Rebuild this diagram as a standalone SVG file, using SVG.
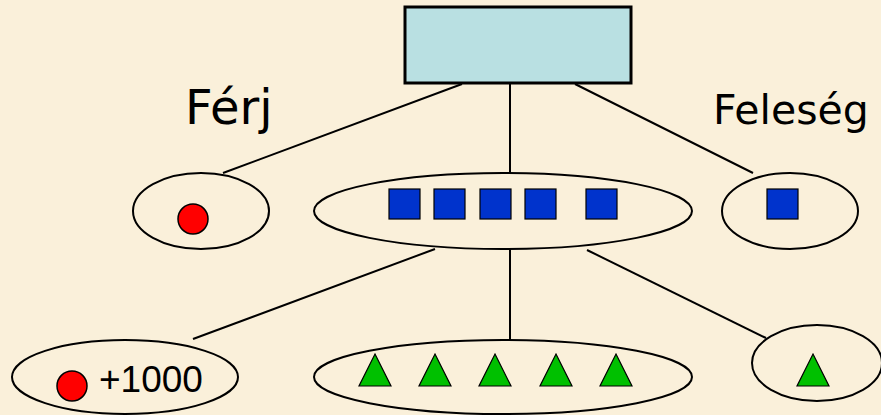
<svg xmlns="http://www.w3.org/2000/svg" width="881" height="415" viewBox="0 0 881 415">
<style>
.set{fill:none;stroke:#000;stroke-width:2}
.con{stroke:#000;stroke-width:2;fill:none}
.sq{fill:#0033cc;stroke:#000;stroke-width:1.2}
.tri{fill:#00c000;stroke:#000;stroke-width:1.2}
.dot{fill:#ff0000;stroke:#000;stroke-width:1.5}
.lbl{font-family:"DejaVu Sans",sans-serif;font-size:48px;fill:#000}
.num{font-family:"Liberation Sans",Arial,sans-serif;font-size:37px;fill:#000}
</style>
<rect width="881" height="415" fill="#faf0da"/>
<g id="connectors">
<line class="con" x1="462" y1="84" x2="223" y2="173"/>
<line class="con" x1="510" y1="84" x2="510" y2="173"/>
<line class="con" x1="575" y1="84" x2="753" y2="173"/>
<line class="con" x1="435" y1="249" x2="193" y2="339"/>
<line class="con" x1="510" y1="249" x2="510" y2="339"/>
<line class="con" x1="587" y1="250" x2="766" y2="338"/>
</g>
<g id="root">
<rect x="405" y="7" width="226" height="76" fill="#b9e0e2" stroke="#000" stroke-width="3"/>
</g>
<g id="label-ferj">
<text class="lbl" x="185" y="124">Férj</text>
</g>
<g id="label-feleseg">
<text class="lbl" x="713" y="124" style="font-size:41px">Feleség</text>
</g>
<g id="set-ferj">
<ellipse class="set" cx="201" cy="211" rx="68" ry="38"/>
<circle class="dot" cx="193" cy="219" r="15"/>
</g>
<g id="set-common">
<ellipse class="set" cx="503" cy="211" rx="189" ry="38"/>
<rect class="sq" x="389" y="189" width="31" height="30"/>
<rect class="sq" x="434" y="189" width="31" height="30"/>
<rect class="sq" x="480" y="189" width="31" height="30"/>
<rect class="sq" x="525" y="189" width="31" height="30"/>
<rect class="sq" x="586" y="189" width="31" height="30"/>
</g>
<g id="set-feleseg">
<ellipse class="set" cx="790" cy="211" rx="68" ry="38"/>
<rect class="sq" x="767" y="189" width="31" height="30"/>
</g>
<g id="set-bottom-left">
<ellipse class="set" cx="125" cy="377" rx="113" ry="37"/>
<circle class="dot" cx="72" cy="386" r="15"/>
<text class="num" x="99" y="392">+1000</text>
</g>
<g id="set-bottom-middle">
<ellipse class="set" cx="503" cy="377" rx="189" ry="37"/>
<polygon class="tri" points="375,354 391,386 359,386"/>
<polygon class="tri" points="435,354 451,386 419,386"/>
<polygon class="tri" points="495,354 511,386 479,386"/>
<polygon class="tri" points="556,354 572,386 540,386"/>
<polygon class="tri" points="616,354 632,386 600,386"/>
</g>
<g id="set-bottom-right">
<ellipse class="set" cx="817" cy="363" rx="65" ry="38"/>
<polygon class="tri" points="813,354 829,386 797,386"/>
</g>
</svg>
